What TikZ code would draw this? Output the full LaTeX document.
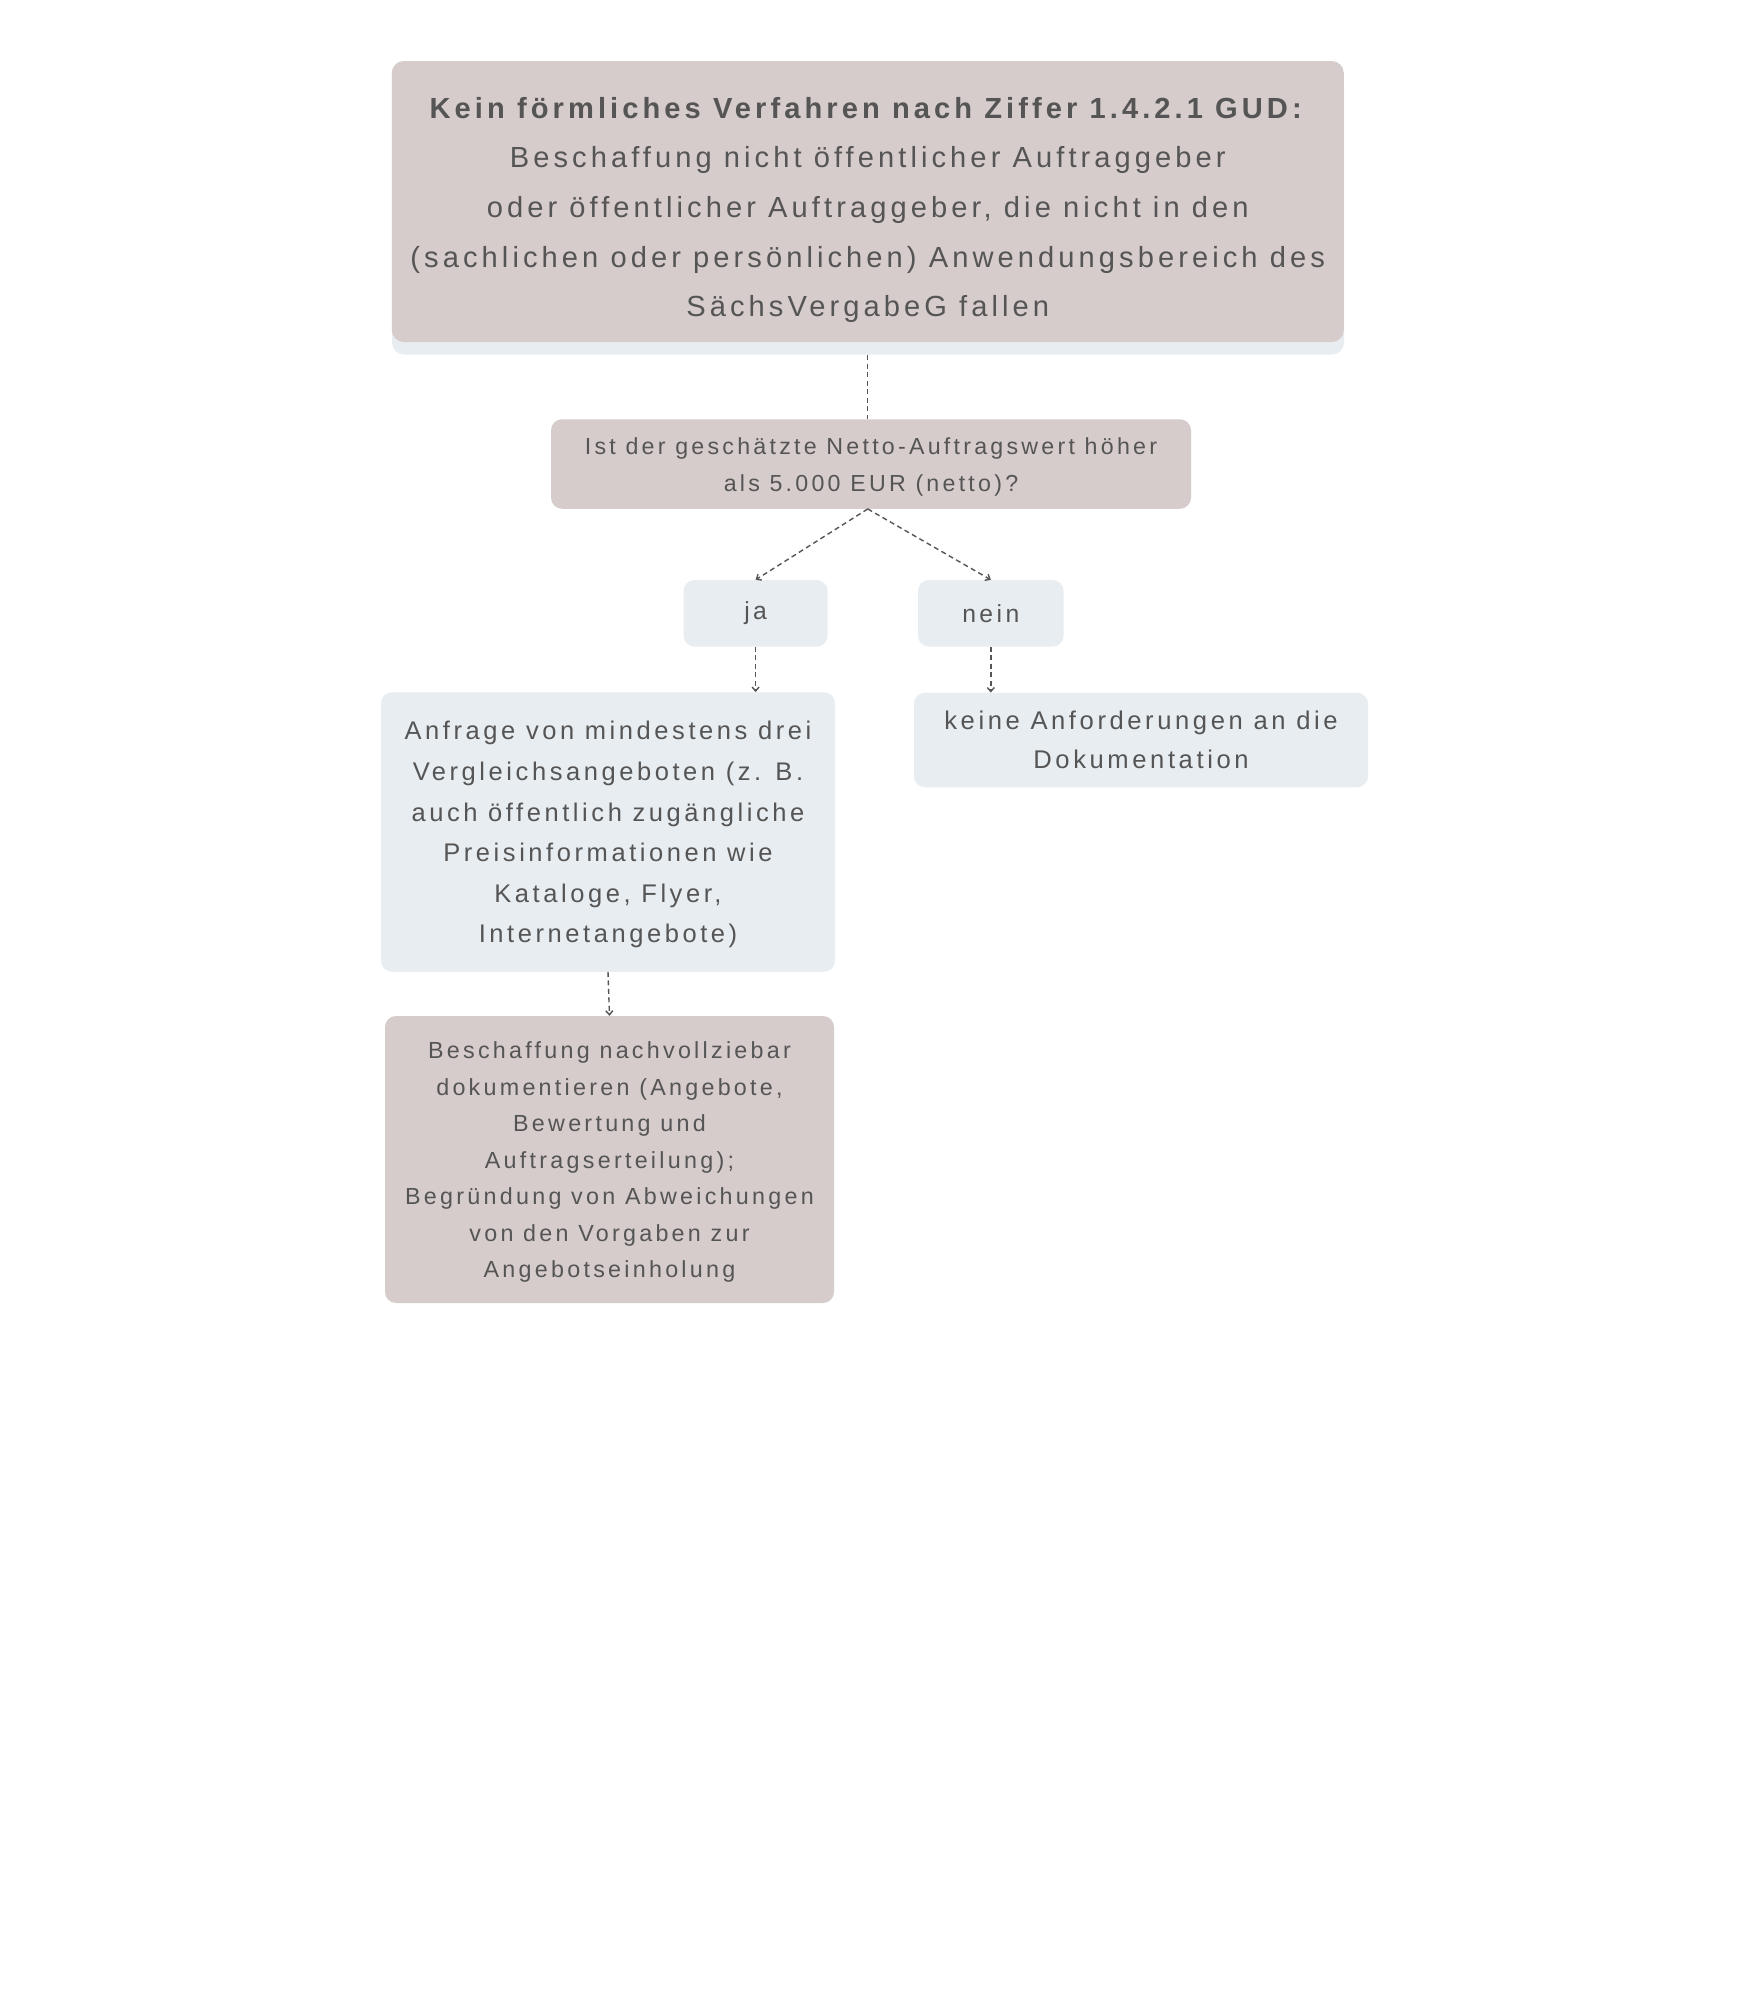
\documentclass[tikz,border=0pt]{standalone}
\usepackage{fontspec}
\setmainfont{Liberation Sans}[LetterSpace=14]
\usepackage{xcolor}
\usepackage{tikz}
\usetikzlibrary{arrows.meta}
\definecolor{boxrose}{HTML}{D7CCCC}
\definecolor{boxgrey}{HTML}{E8EDF1}
\definecolor{inktext}{HTML}{555555}

\begin{document}
\begin{tikzpicture}[x=1pt,y=-1pt,
  rosebox/.style={fill=boxrose,rounded corners=11pt,align=center,text=inktext,inner sep=0pt},
  greybox/.style={fill=boxgrey,rounded corners=11pt,align=center,text=inktext,inner sep=0pt},
  link/.style={draw=inktext,line width=1.4pt,dash pattern=on 5pt off 3.5pt,-{Straight Barb[length=4pt,width=7pt]}}]
  % Canvas
  \path[use as bounding box,fill=white] (0,0) rectangle (1751,2000);
  % Title box and its shadow
  \fill[boxgrey,rounded corners=12pt] (392,74) rectangle (1344,354.5);
  \node[rosebox,rounded corners=12pt,minimum width=952pt,minimum height=281pt,
    font=\fontsize{29.1}{49.7}\selectfont] (title) at (867.75,201.5)
    {\rule{0pt}{38pt}\textbf{Kein förmliches Verfahren nach Ziffer 1.4.2.1 GUD:}\\
     Beschaffung nicht öffentlicher Auftraggeber\\
     oder öffentlicher Auftraggeber, die nicht in den\\
     (sachlichen oder persönlichen) Anwendungsbereich des\\
     SächsVergabeG fallen};
  % Question
  \node[rosebox,minimum width=640pt,minimum height=89.5pt,
    font=\fontsize{23.2}{37}\selectfont] (ask) at (871,464)
    {\rule{0pt}{22pt}Ist der geschätzte Netto-Auftragswert höher\\ als 5.000 EUR (netto)?};
  % Answers
  \node[greybox,minimum width=144pt,minimum height=66.6pt,
    font=\fontsize{24.7}{30}\selectfont] (ja) at (755.6,613.3) {ja};
  \node[greybox,minimum width=145.6pt,minimum height=66.6pt,
    font=\fontsize{24.7}{30}\selectfont] (nein) at (990.8,613.3) {nein};
  % Results
  \node[greybox,minimum width=454pt,minimum height=279.5pt,
    font=\fontsize{25.5}{40.6}\selectfont] (anfrage) at (608,832)
    {\rule{0pt}{24pt}Anfrage von mindestens drei\\ Vergleichsangeboten (z. B.\\
     auch öffentlich zugängliche\\ Preisinformationen wie\\
     Kataloge, Flyer,\\ Internetangebote)};
  \node[greybox,minimum width=454pt,minimum height=94.5pt,
    font=\fontsize{25.6}{39.5}\selectfont] (keine) at (1141,740)
    {keine Anforderungen an die\\ Dokumentation};
  \node[rosebox,minimum width=449pt,minimum height=287pt,
    font=\fontsize{23.3}{36.5}\selectfont] (doku) at (609.5,1159.5)
    {\rule{0pt}{22pt}Beschaffung nachvollziebar\\ dokumentieren (Angebote,\\
     Bewertung und\\ Auftragserteilung);\\
     Begründung von Abweichungen\\ von den Vorgaben zur\\
     Angebotseinholung};
  % Connectors
  \draw[link,-] ([yshift=-13pt]title.south) -- (title.south |- ask.north);
  \coordinate (fork) at (title.south |- ask.south);
  \draw[link] (fork) -- (ja.north);
  \draw[link] (fork) -- (nein.north);
  \draw[link] (ja.south) -- (ja.south |- anfrage.north);
  \draw[link] (nein.south) -- (nein.south |- keine.north);
  \draw[link] (anfrage.south) -- (doku.north);
\end{tikzpicture}
\end{document}
